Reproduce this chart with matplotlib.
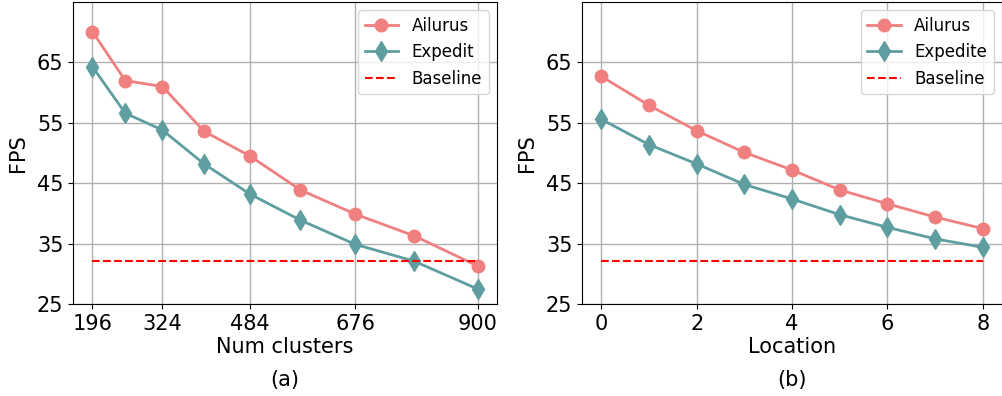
import matplotlib
matplotlib.use('Agg')
import matplotlib.pyplot as plt

# datos panel (a)
clusters = [196, 256, 324, 400, 484, 576, 676, 784, 900]
ailurus_a = [70.1, 62.0, 61.0, 53.6, 49.5, 43.9, 39.9, 36.3, 31.3]
expedit_a = [64.3, 56.6, 53.8, 48.2, 43.2, 38.9, 34.9, 32.1, 27.5]
ticks_a = [196, 324, 484, 676, 900]

# datos panel (b)
location = [0, 1, 2, 3, 4, 5, 6, 7, 8]
ailurus_b = [62.7, 57.9, 53.7, 50.1, 47.2, 43.9, 41.6, 39.4, 37.5]
expedite_b = [55.6, 51.4, 48.2, 44.8, 42.4, 39.8, 37.7, 35.8, 34.4]

baseline = 32.1
yticks = [25, 35, 45, 55, 65]

c_ail = '#F08080'
c_exp = '#5F9EA0'

fig = plt.figure(figsize=(10.02, 3.96), dpi=100)
ax1 = fig.add_axes([0.073, 0.232, 0.423, 0.763])
ax2 = fig.add_axes([0.581, 0.232, 0.419, 0.763])


def dibujar(ax, x, a, e, nombre_e, xlabel, letra, xticks):
    ax.plot(x, a, color=c_ail, marker='o', markersize=9, linewidth=2, label='Ailurus')
    ax.plot(x, e, color=c_exp, marker='d', markersize=10, linewidth=2, label=nombre_e)
    ax.plot([x[0], x[-1]], [baseline, baseline], 'r--', linewidth=1.5, label='Baseline')
    ax.set_ylim(25, 75)
    ax.set_yticks(yticks)
    ax.set_xticks(xticks)
    ax.grid(True, color='#b0b0b0', linewidth=1)
    ax.set_axisbelow(True)
    ax.tick_params(labelsize=15)
    ax.set_ylabel('FPS', fontsize=15, labelpad=6)
    ax.set_xlabel(xlabel, fontsize=15, labelpad=2)
    ax.legend(loc='upper right', fontsize=12)
    ax.text(0.5, -0.25, letra, transform=ax.transAxes, ha='center', va='center', fontsize=15)


dibujar(ax1, clusters, ailurus_a, expedit_a, 'Expedit', 'Num clusters', '(a)', ticks_a)
dibujar(ax2, location, ailurus_b, expedite_b, 'Expedite', 'Location', '(b)', [0, 2, 4, 6, 8])

fig.savefig('out.png', dpi=100)
